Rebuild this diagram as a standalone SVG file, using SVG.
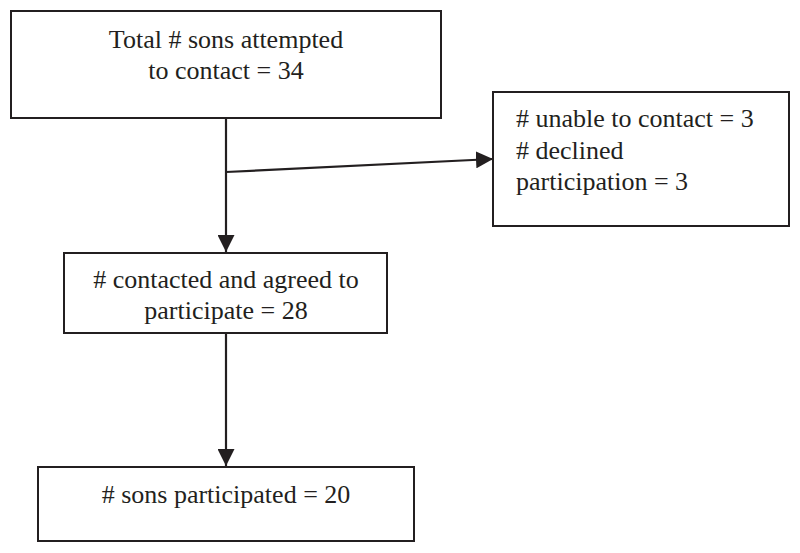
<svg xmlns="http://www.w3.org/2000/svg" width="800" height="553" viewBox="0 0 800 553">
<defs>
<marker id="ah" viewBox="0 0 10 10" refX="10" refY="5" markerWidth="17" markerHeight="17" markerUnits="userSpaceOnUse" orient="auto">
<path d="M0,0 L10,5 L0,10 Z" fill="#231f20"/>
</marker>
</defs>
<style>
.box{fill:#fff;stroke:#231f20;stroke-width:2}
.t{font-size:26px;fill:#231f20}
.c{text-anchor:middle}
.ln{stroke:#231f20;stroke-width:2.2;fill:none}
</style>
<rect width="800" height="553" fill="#fff"/>
<g id="connectors">
<line class="ln" x1="226" y1="118" x2="226" y2="252" marker-end="url(#ah)"/>
<line class="ln" x1="226" y1="172" x2="493" y2="159" marker-end="url(#ah)"/>
<line class="ln" x1="226" y1="333" x2="226" y2="466" marker-end="url(#ah)"/>
</g>
<g id="n1" font-family="'Liberation Serif', 'Times New Roman', Times, serif">
<rect class="box" x="11" y="11" width="430" height="107"/>
<text class="t c" x="226" y="48">Total # sons attempted</text>
<text class="t c" x="226" y="79">to contact = 34</text>
</g>
<g id="n2" font-family="'Liberation Serif', 'Times New Roman', Times, serif">
<rect class="box" x="493" y="92" width="296" height="134"/>
<text class="t" x="516" y="127">
<tspan x="516" y="127"># unable to contact = 3</tspan>
<tspan x="516" y="159"># declined</tspan>
<tspan x="516" y="190">participation = 3</tspan>
</text>
</g>
<g id="n3" font-family="'Liberation Serif', 'Times New Roman', Times, serif">
<rect class="box" x="64" y="253" width="323" height="80"/>
<text class="t c" x="226" y="288"># contacted and agreed to</text>
<text class="t c" x="226" y="319">participate = 28</text>
</g>
<g id="n4" font-family="'Liberation Serif', 'Times New Roman', Times, serif">
<rect class="box" x="38" y="467" width="376" height="74"/>
<text class="t c" x="226" y="503"># sons participated = 20</text>
</g>
</svg>
